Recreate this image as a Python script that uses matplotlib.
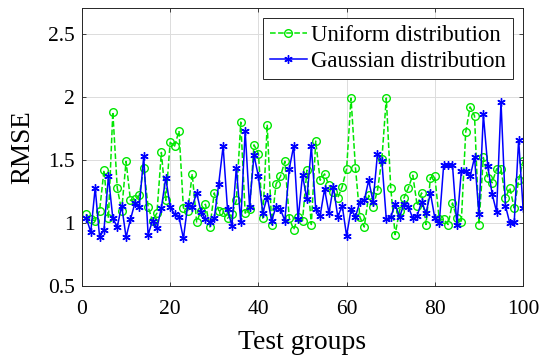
import numpy as np
import matplotlib
matplotlib.use("Agg")
import matplotlib.pyplot as plt
from matplotlib.ticker import FormatStrFormatter

plt.rcParams['font.family'] = ['Liberation Serif', 'DejaVu Serif']

groups = np.arange(1, 101)

uniform = [1.07, 1.03, 1.02, 1.10, 1.42, 1.04, 1.88, 1.28, 1.10, 1.49,
           1.18, 1.19, 1.22, 1.44, 1.13, 1.02, 1.08, 1.56, 1.18, 1.64,
           1.61, 1.73, 1.12, 1.10, 1.39, 1.01, 1.10, 1.15, 0.97, 1.24,
           1.10, 1.09, 1.04, 1.07, 1.18, 1.80, 1.08, 1.11, 1.62, 1.55,
           1.04, 1.78, 0.99, 1.31, 1.37, 1.49, 1.04, 0.95, 1.05, 1.02,
           1.42, 0.99, 1.65, 1.34, 1.39, 1.30, 1.25, 1.20, 1.29, 1.43,
           1.99, 1.44, 1.05, 0.97, 1.22, 1.13, 1.26, 1.51, 1.99, 1.28,
           0.91, 1.10, 1.20, 1.28, 1.38, 1.14, 1.24, 0.99, 1.36, 1.37,
           1.03, 1.03, 0.99, 1.16, 1.04, 1.01, 1.72, 1.92, 1.85, 0.99,
           1.52, 1.36, 1.32, 1.43, 1.43, 1.20, 1.28, 1.12, 1.34, 1.49]

gaussian = [1.04, 0.93, 1.28, 0.89, 0.95, 1.37, 1.04, 0.97, 1.14, 0.89,
            1.03, 1.16, 1.13, 1.53, 0.91, 1.02, 0.96, 1.12, 1.36, 1.13,
            1.07, 1.05, 0.88, 1.15, 1.13, 1.24, 1.09, 1.03, 1.01, 1.04,
            1.31, 1.61, 1.11, 0.98, 1.44, 1.01, 1.73, 1.13, 1.54, 1.37,
            1.08, 1.21, 1.02, 1.13, 1.11, 1.02, 1.43, 1.61, 1.03, 1.38,
            1.19, 1.61, 1.11, 1.06, 1.27, 1.08, 1.29, 1.05, 1.14, 0.90,
            1.11, 1.05, 1.17, 1.18, 1.34, 1.17, 1.55, 1.49, 1.03, 1.05,
            1.15, 1.05, 1.15, 1.13, 1.04, 1.06, 1.17, 1.08, 1.24, 1.04,
            1.00, 1.46, 1.46, 1.46, 0.99, 1.41, 1.41, 1.37, 1.52, 1.07,
            1.86, 1.45, 1.23, 1.09, 1.96, 1.14, 1.00, 1.01, 1.66, 1.12]

fig = plt.figure(figsize=(5.5, 3.59), dpi=100)
ax = fig.add_axes([0.149, 0.202, 0.802, 0.775])

ax.plot(groups, uniform, '--', color='#00e600', lw=1.1, marker='o',
        markerfacecolor='none', markeredgecolor='#00e600', markersize=5.5,
        markeredgewidth=1.0, label='Uniform distribution')
ax.plot(groups, gaussian, '-', color='#0000ff', lw=1.1, marker=(6, 2, 0),
        markersize=6, markeredgewidth=1.0, label='Gaussian distribution')

ax.set_xlim(0, 100)
ax.set_ylim(0.5, 2.7)
ax.set_xticks([0, 20, 40, 60, 80, 100])
ax.set_yticks([0.5, 1, 1.5, 2, 2.5])
ax.yaxis.set_major_formatter(FormatStrFormatter('%g'))
ax.tick_params(direction='in', top=True, right=True, labelsize=15.5,
               length=3, width=0.6, color='#262626')
ax.tick_params(axis='x', pad=10)
ax.tick_params(axis='y', pad=5)
ax.grid(True, color='#dcdcdc', lw=0.7)
ax.set_axisbelow(True)
for s in ax.spines.values():
    s.set_color('#262626')
    s.set_linewidth(0.7)

ax.set_xlabel('Test groups', fontsize=20, labelpad=8)
ax.set_ylabel('RMSE', fontsize=19.5, labelpad=9)

leg = ax.legend(loc='upper right', bbox_to_anchor=(1 - 10 / 441, 1 - 10 / 278),
                borderaxespad=0, fontsize=16.5, fancybox=False, framealpha=1,
                edgecolor='#262626', handlelength=1.6, handletextpad=0.2,
                borderpad=0.3, labelspacing=0.2)
leg.get_frame().set_linewidth(0.7)

fig.savefig('out.png', dpi=100)
